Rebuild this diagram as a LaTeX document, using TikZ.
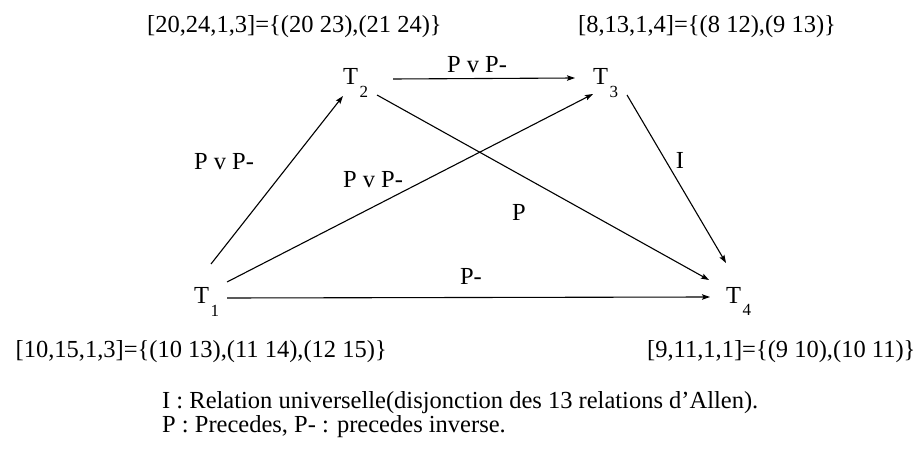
\documentclass[tikz,border=0pt]{standalone}
\usepackage{fontspec}
\setmainfont{Liberation Serif}
\usetikzlibrary{arrows.meta}
\newcommand\subfnt{\fontsize{17}{17}\selectfont}
\newcommand\tlab[1]{T\kern1.5pt\raisebox{-13pt}{\subfnt #1}}
\begin{document}
\begin{tikzpicture}[x=1pt,y=-1pt,
  txt/.style={font=\fontsize{24.5}{29}\selectfont, inner sep=0pt},
  tnode/.style={txt, anchor=base west},
  rel/.style={txt},
  arr/.style={line width=1.1pt, -{Stealth[length=8pt,width=5.5pt,inset=1.5pt]}}]
\useasboundingbox (0,0) rectangle (918,454);
% time nodes
\node[tnode] (T1) at (194,304) {\tlab{1}};
\node[tnode] (T2) at (343,85) {\tlab{2}};
\node[tnode] (T3) at (593,85) {\tlab{3}};
\node[tnode] (T4) at (726,303) {\tlab{4}};
% connectors
\draw[arr] ([shift={(17,-40)}]T1.base west) -- ([shift={(0,11)}]T2.base west);
\draw[arr] ([shift={(33,-22)}]T1.base west) -- ([shift={(0,9)}]T3.base west);
\draw[arr] ([shift={(33,-6)}]T1.base west) -- ([shift={(-16,-6)}]T4.base west);
\draw[arr] ([shift={(50,-6)}]T2.base west) -- ([shift={(-18,-7)}]T3.base west);
\draw[arr] ([shift={(34,10)}]T2.base west) -- ([shift={(-17,-23)}]T4.base west);
\draw[arr] ([shift={(34,10)}]T3.base west) -- ([shift={(0,-40)}]T4.base west);
% relation labels
\node[rel] (l12) at (224,162) {P v P-};
\node[rel] (l23) at (477,65) {P v P-};
\node[rel] (l13) at (373,180) {P v P-};
\node[rel] (l24) at (519,212) {P};
\node[rel] (l14) at (471,276) {P-};
\node[rel] (l34) at (680,160) {I};
% domains
\node[txt, anchor=base west] (d2) at (147,33) {[20,24,1,3]=\{(20 23),(21 24)\}};
\node[txt, anchor=base west] (d3) at (578,33) {[8,13,1,4]=\{(8 12),(9 13)\}};
\node[txt, anchor=base east] (d1) at (387,357) {[10,15,1,3]=\{(10 13),(11 14),(12 15)\}};
\node[txt, anchor=base west] (d4) at (647,357) {[9,11,1,1]=\{(9 10),(10 11)\}};
% legend
\node[txt, anchor=base west] (leg1) at (162,408) {I : Relation universelle(disjonction des 13 relations d’Allen).};
\node[txt, anchor=base west] (leg2) at (162,432) {P : Precedes, P- : precedes inverse.};
\end{tikzpicture}
\end{document}
